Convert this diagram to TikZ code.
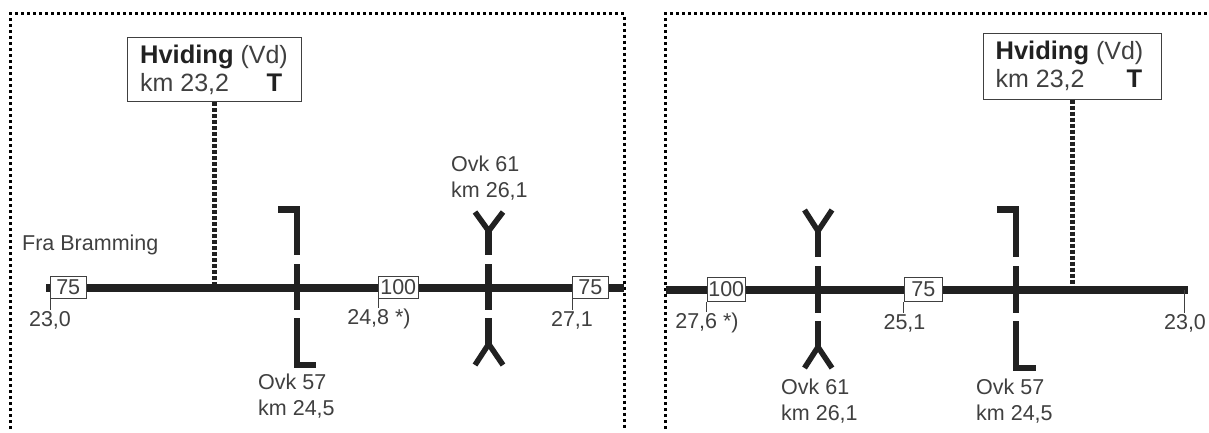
\documentclass[tikz,border=0pt]{standalone}
\usepackage{fontspec}
\setmainfont{Liberation Sans}
\definecolor{ink}{gray}{0.13}
\definecolor{txt}{gray}{0.25}
\tikzset{
  x=1pt,y=-1pt,
  framedots/.style={draw=black,line width=3pt,dash pattern=on 3pt off 3pt},
  mainline/.style={draw=ink,line width=8pt},
  feeder/.style={draw=ink,line width=5pt,dash pattern=on 4.2pt off 1.8pt},
  signal/.style={draw=ink,line width=6.5pt},
  fork/.style={draw=ink,line width=5.5pt},
  tick/.style={draw=txt,line width=1pt},
  speedbox/.style={draw=txt,fill=white,line width=1pt,inner sep=0pt,anchor=north west,text=txt,
    font=\fontsize{21.5}{24}\selectfont},
  station/.style={draw=txt,fill=white,line width=1.2pt,inner sep=0pt,anchor=north west,align=left,text=txt,
    font=\fontsize{25}{28}\selectfont},
  kmlabel/.style={inner sep=1pt,text=txt,font=\fontsize{21.5}{26}\selectfont},
  sigtext/.style={inner sep=0pt,anchor=west,align=left,text=txt,font=\fontsize{21.5}{26}\selectfont},
}
\newcommand{\stationtext}[1]{\parbox{#1pt}{\hspace*{12pt}{\fontsize{25.5}{28}\selectfont\bfseries\color{ink}Hviding} (Vd)\\\hspace*{12pt}km 23,2\hfill{\fontsize{25.5}{28}\selectfont\bfseries\color{ink}T}\hspace*{19pt}}}
\begin{document}
\begin{tikzpicture}
\useasboundingbox (0,0) rectangle (1209,432);
\fill[white] (0,0) rectangle (1209,432);
% ---------- frames
\draw[framedots] (10.5,429) -- (10.5,13.5) -- (624,13.5) -- (624,429);
\draw[framedots] (665.5,429) -- (665.5,13.5) -- (1207,13.5);
% ---------- left panel
\coordinate (La) at (46,287.5);
\coordinate (Lb) at (624,287.5);
\coordinate (L57) at (297,287.5);
\coordinate (L61) at (488.7,287.5);
\draw[mainline] (La) -- (Lb);
\node[station,minimum width=174pt,minimum height=64pt] (hvL) at (127,37) {\stationtext{173}};
\draw[feeder] (hvL.south) -- (hvL.south |- La);
\draw[signal,line cap=butt] (278,209.5) -- (297,209.5) -- (L57 |- 0,255);
\draw[signal] (L57 |- 0,264) -- (L57 |- 0,310);
\draw[signal] (L57 |- 0,318) -- (L57 |- 0,365) -- (316,365);
\draw[signal] (L61 |- 0,230) -- (L61 |- 0,255);
\draw[fork] (475,212) -- (L61 |- 0,231) -- (503,212);
\draw[signal] (L61 |- 0,264) -- (L61 |- 0,310);
\draw[signal] (L61 |- 0,318) -- (L61 |- 0,345);
\draw[fork] (475,365) -- (L61 |- 0,344) -- (503,365);
\node[speedbox,minimum width=35.5pt,minimum height=22pt] (sL1) at (50,276) {75};
\node[speedbox,minimum width=39.5pt,minimum height=22pt] (sL2) at (378,276) {100};
\node[speedbox,minimum width=35.5pt,minimum height=22pt] (sL3) at (572,276) {75};
\node[kmlabel] (kL1) at (50,320) {23,0};
\node[kmlabel] (kL2) at (379,319) {24,8 *)};
\node[kmlabel] (kL3) at (572,320) {27,1};
\draw[tick] (sL1.south west) -- (sL1.south west |- kL1.north);
\draw[tick] (sL2.south west) -- (sL2.south west |- kL2.north);
\draw[tick] (sL3.south west) -- (sL3.south west |- kL3.north);
\node[sigtext] (fra) at (22,245) {Fra Bramming};
\node[sigtext] (oL61) at (451,178) {Ovk 61\\km 26,1};
\node[sigtext] (oL57) at (258,396) {Ovk 57\\km 24,5};
% ---------- right panel
\coordinate (Ra) at (665.5,289.5);
\coordinate (Rb) at (1188,289.5);
\coordinate (R61) at (818,289.5);
\coordinate (R57) at (1016,289.5);
\draw[mainline] (Ra) -- (Rb);
\node[station,minimum width=178.5pt,minimum height=66pt] (hvR) at (982.5,32.5) {\stationtext{177.5}};
\draw[feeder] (hvR.south) -- (hvR.south |- Ra);
\draw[signal] (R61 |- 0,230) -- (R61 |- 0,257);
\draw[fork] (804.5,210) -- (R61 |- 0,231) -- (832,210);
\draw[signal] (R61 |- 0,266) -- (R61 |- 0,313);
\draw[signal] (R61 |- 0,321) -- (R61 |- 0,348);
\draw[fork] (804.5,368) -- (R61 |- 0,347) -- (832,368);
\draw[signal] (997,209.5) -- (1016,209.5) -- (R57 |- 0,257);
\draw[signal] (R57 |- 0,266) -- (R57 |- 0,313);
\draw[signal] (R57 |- 0,321) -- (R57 |- 0,368) -- (1036,368);
\node[speedbox,minimum width=38.5pt,minimum height=24pt] (sR1) at (706.5,277) {100};
\node[speedbox,minimum width=38.5pt,minimum height=24pt] (sR2) at (903.5,277) {75};
\node[kmlabel] (kR1) at (707,323) {27,6 *)};
\node[kmlabel] (kR2) at (904.5,323) {25,1};
\node[kmlabel] (kR3) at (1185,323) {23,0};
\draw[tick] (sR1.south west) -- (sR1.south west |- kR1.north);
\draw[tick] (sR2.south west) -- (sR2.south west |- kR2.north);
\draw[tick] (Rb -| 1184,0) -- (1184,0 |- kR3.north);
\node[sigtext] (oR61) at (781,401) {Ovk 61\\km 26,1};
\node[sigtext] (oR57) at (976,401) {Ovk 57\\km 24,5};
\end{tikzpicture}
\end{document}
